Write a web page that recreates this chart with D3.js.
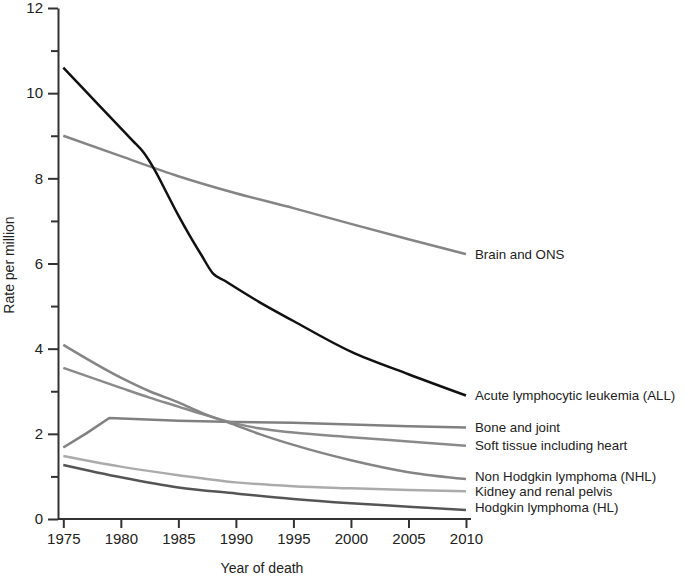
<!DOCTYPE html>
<html>
<head>
<meta charset="utf-8">
<script src="https://cdn.jsdelivr.net/npm/d3@7"></script>
<style>
  body { margin: 0; background: #fff; }
  text { font-family: "Liberation Sans", Arial, sans-serif; }
</style>
</head>
<body>
<svg id="chart" width="685" height="577"></svg>
<script>
// rates per million
var seriesNames = ["Brain and ONS", "Acute lymphocytic leukemia (ALL)", "Bone and joint",
  "Soft tissue including heart", "Non Hodgkin lymphoma (NHL)", "Kidney and renal pelvis", "Hodgkin lymphoma (HL)"];

var brain  = [[1975,9.0],[1980,8.52],[1985,8.05],[1990,7.65],[1995,7.3],[2000,6.93],[2005,6.57],[2010,6.22]];
var all    = [[1975,10.6],[1977,10.03],[1979,9.46],[1981,8.89],[1982,8.6],[1983,8.17],[1984,7.65],[1985,7.13],[1986,6.65],
              [1987,6.2],[1988,5.77],[1989,5.6],[1990,5.43],[1992,5.1],[1995,4.65],[2000,3.93],[2005,3.4],[2010,2.9]];
var bone   = [[1975,1.68],[1977,2.01],[1979,2.37],[1985,2.31],[1990,2.28],[1995,2.26],[2000,2.22],[2005,2.18],[2010,2.15]];
var soft   = [[1975,3.55],[1980,3.08],[1982.5,2.85],[1985,2.64],[1987,2.47],[1990,2.24],[1992,2.13],[1995,2.03],[2000,1.92],[2005,1.82],[2010,1.72]];
var nhl    = [[1975,4.09],[1980,3.32],[1982.5,3.0],[1985,2.74],[1987,2.5],[1990,2.2],[1992,2.0],[1995,1.74],[2000,1.38],[2005,1.1],[2010,0.94]];
var kidney = [[1975,1.48],[1980,1.23],[1985,1.03],[1990,0.86],[1995,0.77],[2000,0.72],[2005,0.68],[2010,0.65]];
var hl     = [[1975,1.27],[1980,0.98],[1985,0.74],[1990,0.6],[1995,0.47],[2000,0.37],[2005,0.29],[2010,0.21]];

var xTicks = [1975,1980,1985,1990,1995,2000,2005,2010];
var yMajor = [0,2,4,6,8,10,12];
var yMinor = [1,3,5,7,9,11];

var allSeries = [brain, all, bone, soft, nhl, kidney, hl];
var colors = ["#858585", "#111111", "#808080", "#8a8a8a", "#858585", "#ababab", "#555555"];
var labelNudge = [0, 0, 0, 0, -3, 0, -3];

var svg = d3.select("#chart");

var x = d3.scaleLinear().domain([1975, 2010]).range([63.3, 466]);
var y = d3.scaleLinear().domain([0, 12]).range([519, 8]);

/* ejes */
var gx = svg.append("g").attr("transform", "translate(0,519)")
  .call(d3.axisBottom(x).tickValues(xTicks).tickFormat(d3.format("d")).tickSize(9).tickSizeOuter(0).tickPadding(5));
gx.select(".domain").attr("d", "M58,0H471");
gx.selectAll("text").attr("font-size", 15).attr("fill", "#222").attr("font-family", "Liberation Sans, Arial, sans-serif");

var gy = svg.append("g").attr("transform", "translate(58,0)")
  .call(d3.axisLeft(y).tickValues(yMajor).tickSize(10).tickSizeOuter(0).tickPadding(5));
gy.selectAll("text").attr("font-size", 15).attr("fill", "#222").attr("font-family", "Liberation Sans, Arial, sans-serif");

var gy2 = svg.append("g").attr("transform", "translate(58,0)")
  .call(d3.axisLeft(y).tickValues(yMinor).tickSize(7).tickFormat(""));
gy2.select(".domain").remove();

svg.selectAll(".domain, .tick line").attr("stroke", "#333").attr("stroke-width", 2);

svg.append("text").attr("x", 262).attr("y", 573).attr("text-anchor", "middle")
  .attr("font-size", 14).attr("fill", "#222").text("Year of death");
svg.append("text").attr("transform", "translate(14,265) rotate(-90)").attr("text-anchor", "middle")
  .attr("font-size", 14).attr("fill", "#222").text("Rate per million");

/* lineas */
var line = d3.line()
  .x(function(d){ return x(d[0]); })
  .y(function(d){ return y(d[1]); })
  .curve(d3.curveMonotoneX);
var lineStraight = d3.line()
  .x(function(d){ return x(d[0]); })
  .y(function(d){ return y(d[1]); });

svg.selectAll(".serie")
  .data(allSeries)
  .enter().append("path")
  .attr("class", "serie")
  .attr("fill", "none")
  .attr("stroke", function(d, i){ return colors[i]; })
  .attr("stroke-width", 2.5)
  .attr("stroke-linejoin", "round")
  .attr("d", function(d){ return d === bone ? lineStraight(d) : line(d); });

svg.selectAll(".lbl")
  .data(allSeries)
  .enter().append("text")
  .attr("class", "lbl")
  .attr("x", 475)
  .attr("y", function(d, i){ return y(d[d.length - 1][1]) + labelNudge[i]; })
  .attr("dy", "0.35em")
  .attr("font-size", 13.3)
  .attr("fill", "#222")
  .text(function(d, i){ return seriesNames[i]; });
</script>
</body>
</html>
